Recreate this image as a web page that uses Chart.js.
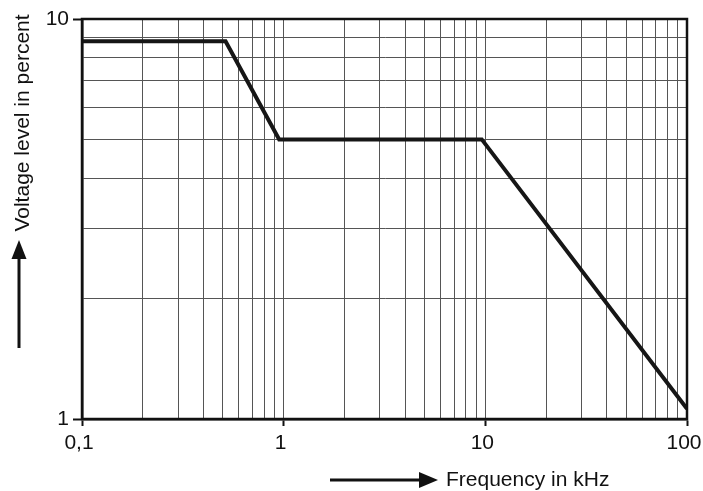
<!DOCTYPE html>
<html>
<head>
<meta charset="utf-8">
<script src="https://cdn.jsdelivr.net/npm/chart.js@4/dist/chart.umd.min.js"></script>
<style>
  html, body { margin: 0; padding: 0; background: #ffffff; }
  #wrap { width: 703px; height: 491px; }
</style>
</head>
<body>
<div id="wrap"><canvas id="c" width="703" height="491"></canvas></div>
<script>
// ---- data ----
const freqKHz = [0.1, 0.515, 0.95, 9.6, 100];
const voltagePct = [8.8, 8.8, 5.0, 5.0, 1.06];

const xMajorValues = [0.1, 1, 10, 100];
const xTickLabels = ['0,1', '1', '10', '100'];
const yMajorValues = [1, 10];
const yTickLabels = ['1', '10'];

const xTitle = 'Frequency in kHz';
const yTitle = 'Voltage level in percent';

// grid positions (1..9 per decade)
function decadeGrid(lo, hi) {
  const out = [];
  for (let e = Math.round(Math.log10(lo)); e < Math.round(Math.log10(hi)); e++) {
    for (let k = 1; k <= 9; k++) out.push(parseFloat((k * Math.pow(10, e)).toPrecision(6)));
  }
  out.push(hi);
  return out;
}
const xGrid = decadeGrid(0.1, 100);
const yGrid = decadeGrid(1, 10);

function isMajor(list, v) { return list.some(m => Math.abs(m - v) < 1e-9 * Math.max(1, m)); }
function labelFor(list, labels, v) {
  for (let i = 0; i < list.length; i++) if (Math.abs(list[i] - v) < 1e-9 * Math.max(1, list[i])) return labels[i];
  return '';
}

const FONT = '"Liberation Sans", Arial, sans-serif';

const decorPlugin = {
  id: 'decor',
  afterDraw(chart) {
    const ctx = chart.ctx;
    const a = chart.chartArea;
    ctx.save();
    // frame
    ctx.strokeStyle = '#111';
    ctx.lineWidth = 2.5;
    ctx.strokeRect(a.left, a.top, a.right - a.left, a.bottom - a.top);

    ctx.fillStyle = '#111';
    ctx.strokeStyle = '#111';
    // y-axis title (rotated)
    ctx.font = '21px ' + FONT;
    ctx.save();
    ctx.translate(23, 123);
    ctx.rotate(-Math.PI / 2);
    ctx.textAlign = 'center';
    ctx.textBaseline = 'middle';
    ctx.fillText(yTitle, 0, 0);
    ctx.restore();

    // y arrow (pointing up)
    ctx.lineWidth = 3;
    ctx.beginPath();
    ctx.moveTo(19, 348);
    ctx.lineTo(19, 254);
    ctx.stroke();
    ctx.beginPath();
    ctx.moveTo(19, 240);
    ctx.lineTo(26.5, 259);
    ctx.lineTo(11.5, 259);
    ctx.closePath();
    ctx.fill();

    // x title
    ctx.textAlign = 'left';
    ctx.textBaseline = 'middle';
    ctx.fillText(xTitle, 446, 480);

    // x arrow (pointing right)
    ctx.beginPath();
    ctx.moveTo(330, 480);
    ctx.lineTo(424, 480);
    ctx.stroke();
    ctx.beginPath();
    ctx.moveTo(438, 480);
    ctx.lineTo(419, 472);
    ctx.lineTo(419, 488);
    ctx.closePath();
    ctx.fill();
    ctx.restore();
  }
};

new Chart(document.getElementById('c'), {
  type: 'line',
  data: {
    datasets: [{
      data: freqKHz.map((f, i) => ({ x: f, y: voltagePct[i] })),
      borderColor: '#161616',
      borderWidth: 4,
      borderJoinStyle: 'miter',
      pointRadius: 0,
      tension: 0,
      fill: false
    }]
  },
  options: {
    responsive: false,
    animation: false,
    layout: { padding: { top: 19, right: 16, left: 0, bottom: 0 } },
    plugins: { legend: { display: false }, tooltip: { enabled: false } },
    scales: {
      x: {
        type: 'logarithmic',
        min: 0.1,
        max: 100,
        afterBuildTicks(scale) { scale.ticks = xGrid.map(v => ({ value: v })); },
        afterFit(scale) { scale.height = 72; scale.paddingLeft = 0; scale.paddingRight = 0; },
        ticks: {
          autoSkip: false,
          maxRotation: 0,
          padding: 5,
          labelOffset: -3,
          color: '#111',
          font: { family: FONT, size: 21 },
          callback: (v) => labelFor(xMajorValues, xTickLabels, v)
        },
        grid: {
          color: '#555555',
          lineWidth: 1,
          tickLength: 7,
          tickColor: (c) => (c.tick && isMajor(xMajorValues, c.tick.value)) ? '#111' : 'rgba(0,0,0,0)',
          tickWidth: 2
        },
        border: { display: true, color: '#111', width: 2.5 }
      },
      y: {
        type: 'logarithmic',
        min: 1,
        max: 10,
        afterBuildTicks(scale) { scale.ticks = yGrid.map(v => ({ value: v })); },
        afterFit(scale) { scale.width = 82; scale.paddingTop = 0; scale.paddingBottom = 0; },
        ticks: {
          autoSkip: false,
          padding: 4,
          color: '#111',
          font: { family: FONT, size: 21 },
          callback: (v) => labelFor(yMajorValues, yTickLabels, v)
        },
        grid: {
          color: '#555555',
          lineWidth: 1,
          tickLength: 9,
          tickColor: (c) => (c.tick && isMajor(yMajorValues, c.tick.value)) ? '#111' : 'rgba(0,0,0,0)',
          tickWidth: 2
        },
        border: { display: true, color: '#111', width: 2.5 }
      }
    }
  },
  plugins: [decorPlugin]
});
</script>
</body>
</html>
